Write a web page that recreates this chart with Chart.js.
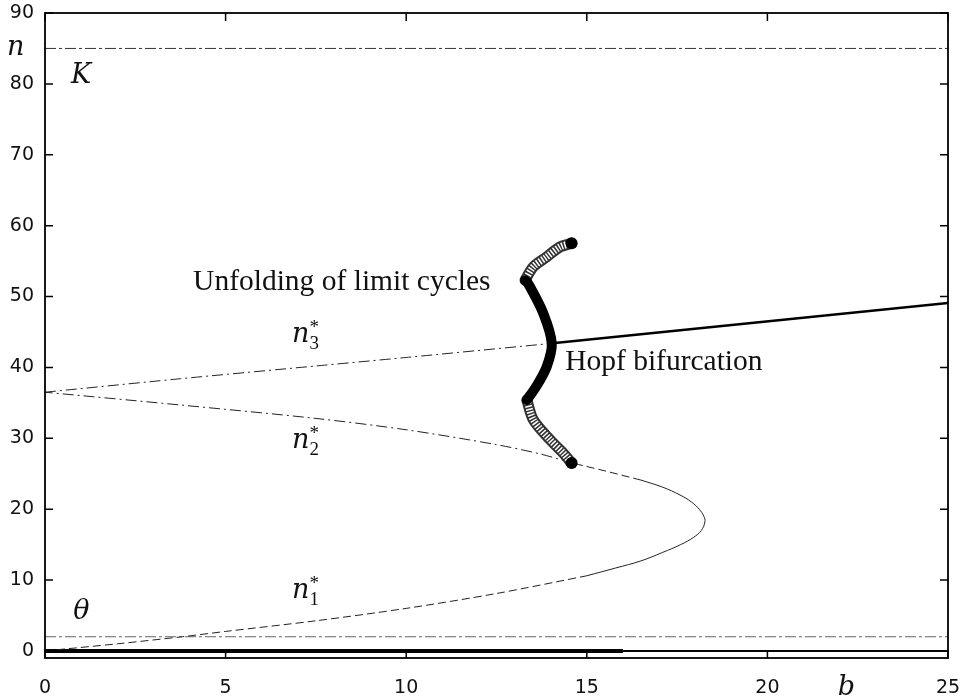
<!DOCTYPE html>
<html>
<head>
<meta charset="utf-8">
<script src="https://cdn.jsdelivr.net/npm/chart.js@4.4.1/dist/chart.umd.min.js"></script>
<style>
html,body{margin:0;padding:0;background:#fff;}
#wrap{width:965px;height:697px;}
</style>
</head>
<body>
<div id="wrap"><canvas id="c" width="965" height="697"></canvas></div>
<script>
// ---- data ----
const xTicks = [0, 5, 10, 15, 20, 25];
const yTicks = [0, 10, 20, 30, 40, 50, 60, 70, 80, 90];

const kLevel = 85;      // K
const thetaLevel = 2;   // theta

// n1* lower branch (dashed)
const n1B = [0, 2, 3.8, 5, 7.5, 10, 12.5, 15];
const n1N = [0, 1.0, 2.0, 2.75, 4.25, 6.0, 8.1, 10.6];
// fold part (thin solid)
const foldB = [15, 15.8, 16.5, 17.1, 17.6, 17.95, 18.17, 18.27, 18.24, 18.11, 17.9, 17.58, 17.1, 16.5];
const foldN = [10.6, 11.7, 12.7, 13.9, 15.0, 16.0, 17.0, 18.2, 19.0, 20.0, 21.0, 22.0, 23.1, 24.1];
// back toward the limit cycle end (dashed)
const upperB = [16.5, 15.5, 14.6];
const upperN = [24.1, 25.4, 26.5];
// n2* (dash-dot)
const n2B = [14.6, 13.7, 12.5, 10, 7.5, 3.74, 0];
const n2N = [26.5, 27.8, 29.1, 31.2, 32.8, 34.7, 36.5];
// n3* (dash-dot, unstable) and stable part after Hopf
const n3B = [0, 3.74, 7.5, 10, 14.05];
const n3N = [36.5, 38.4, 40.2, 41.4, 43.4];
const stableB = [14.05, 25];
const stableN = [43.4, 49.1];
// n = 0 line
const zeroThickB = [0, 16];
const zeroThinB = [16, 25];
const zeroN = [0, 0];

// limit cycle branch
const lcTopB = [14.58, 14.26, 13.89, 13.52, 13.29];
const lcTopN = [57.5, 57.0, 55.6, 54.2, 52.3];
const lcMidB = [13.29, 13.37, 13.79, 14.03, 13.89, 13.6, 13.34];
const lcMidN = [52.3, 51.9, 47.7, 43.4, 40.1, 37.3, 35.4];
const lcBotB = [13.34, 13.52, 13.98, 14.35, 14.58];
const lcBotN = [35.4, 32.6, 29.8, 27.9, 26.5];
const lcEndsB = [14.58, 14.58];
const lcEndsN = [57.5, 26.5];

// ---- helpers ----
const pts = (B, N) => B.map((b, i) => ({x: b, y: N[i]}));
const hline = (v) => [{x: 0, y: v}, {x: 25, y: v}];

function lineDs(data, color, width, dash, extra) {
  return Object.assign({
    data: data, showLine: true, borderColor: color, borderWidth: width,
    borderDash: dash || [], pointRadius: 0, fill: false, tension: 0.3,
    borderCapStyle: 'butt', borderJoinStyle: 'round'
  }, extra || {});
}

// listed bottom-to-top
const drawList = [
  lineDs(hline(kLevel), '#333', 1, [11, 3, 3, 3], {tension: 0}),
  lineDs(hline(thetaLevel), '#666', 1.2, [11, 3, 3, 3], {tension: 0}),
  lineDs(pts(zeroThickB, zeroN), '#000', 4, [], {tension: 0}),
  lineDs(pts(zeroThinB, zeroN), '#000', 2, [], {tension: 0}),
  lineDs(pts(n1B, n1N), '#222', 1, [8, 4]),
  lineDs(pts(foldB, foldN), '#222', 1, [], {tension: 0.4}),
  lineDs(pts(upperB, upperN), '#222', 1, [8, 4]),
  lineDs(pts(n2B, n2N), '#222', 1, [11, 4, 2, 4]),
  lineDs(pts(n3B, n3N), '#222', 1, [11, 4, 2, 4], {tension: 0.2}),
  lineDs(pts(stableB, stableN), '#000', 2.5, [], {tension: 0}),
  // limit cycles: open-circle tubes
  lineDs(pts(lcTopB, lcTopN), '#333', 11, [], {borderCapStyle: 'round'}),
  lineDs(pts(lcTopB, lcTopN), '#fff', 7, [1.5, 1.5]),
  lineDs(pts(lcBotB, lcBotN), '#333', 11, [], {borderCapStyle: 'round'}),
  lineDs(pts(lcBotB, lcBotN), '#fff', 7, [1.5, 1.5]),
  // limit cycles: filled part
  lineDs(pts(lcMidB, lcMidN), '#000', 10, [], {borderCapStyle: 'round'}),
  {data: pts(lcEndsB, lcEndsN), showLine: false, pointRadius: 6, pointBackgroundColor: '#000',
   pointBorderColor: '#000', pointBorderWidth: 0}
];
// Chart.js paints dataset 0 last (on top), so reverse
const datasets = drawList.slice().reverse();

// annotation texts (positions in data units)
const mathFont = 'italic 27px "DejaVu Serif"';
const texts = [
  {t: 'Unfolding of limit cycles', b: 4.10, n: 50.9, font: '29.5px "Liberation Serif"'},
  {t: 'Hopf bifurcation', b: 14.40, n: 39.6, font: '29.5px "Liberation Serif"'},
  {t: 'n', b: -1.05, n: 84.1, font: mathFont},
  {t: 'K', b: 0.72, n: 80.1, font: mathFont},
  {t: 'θ', b: 0.78, n: 4.5, font: mathFont},
  {t: 'b', b: 21.95, n: -6.2, font: mathFont}
];
const starLabels = [
  {sub: '3', b: 6.84, n: 43.6},
  {sub: '2', b: 6.84, n: 28.6},
  {sub: '1', b: 6.84, n: 7.5}
];

const decor = {
  id: 'decor',
  afterDraw(chart) {
    const ctx = chart.ctx, a = chart.chartArea;
    const xs = chart.scales.x, ys = chart.scales.y;
    ctx.save();
    ctx.strokeStyle = '#000';
    ctx.lineWidth = 1.5;
    const L = 8;
    ctx.beginPath();
    xTicks.forEach(v => {
      const px = xs.getPixelForValue(v);
      ctx.moveTo(px, a.bottom); ctx.lineTo(px, a.bottom - L);
      ctx.moveTo(px, a.top); ctx.lineTo(px, a.top + L);
    });
    yTicks.forEach(v => {
      const py = ys.getPixelForValue(v);
      ctx.moveTo(a.left, py); ctx.lineTo(a.left + L, py);
      ctx.moveTo(a.right, py); ctx.lineTo(a.right - L, py);
    });
    ctx.stroke();
    ctx.lineWidth = 1.8;
    ctx.strokeRect(a.left, a.top, a.right - a.left, a.bottom - a.top);

    ctx.fillStyle = '#111';
    ctx.textBaseline = 'alphabetic';
    ctx.textAlign = 'left';
    texts.forEach(o => {
      ctx.font = o.font;
      ctx.fillText(o.t, xs.getPixelForValue(o.b), ys.getPixelForValue(o.n));
    });
    starLabels.forEach(o => {
      const x = xs.getPixelForValue(o.b), y = ys.getPixelForValue(o.n);
      ctx.font = mathFont;
      ctx.fillText('n', x, y);
      const w = ctx.measureText('n').width;
      ctx.font = '19px "Liberation Serif"';
      ctx.fillText(o.sub, x + w, y + 7);
      ctx.fillText('*', x + w, y - 9);
    });
    ctx.restore();
  }
};

const noPad = s => { s.paddingTop = 0; s.paddingBottom = 0; s.paddingLeft = 0; s.paddingRight = 0; };

new Chart(document.getElementById('c'), {
  type: 'scatter',
  data: {datasets: datasets},
  plugins: [decor],
  options: {
    responsive: false,
    animation: false,
    events: [],
    layout: {padding: {top: 13, right: 17, left: 0, bottom: 0}},
    plugins: {legend: {display: false}, tooltip: {enabled: false}},
    scales: {
      x: {
        type: 'linear', min: 0, max: 25,
        afterBuildTicks: s => { s.ticks = xTicks.map(v => ({value: v})); },
        afterFit: s => { s.height = 39; noPad(s); },
        grid: {display: false, drawTicks: false},
        border: {display: false},
        ticks: {padding: 19, color: '#111', font: {family: 'DejaVu Sans', size: 19}, maxRotation: 0}
      },
      y: {
        type: 'linear', min: -1, max: 90,
        afterBuildTicks: s => { s.ticks = yTicks.map(v => ({value: v})); },
        afterFit: s => { s.width = 45; noPad(s); },
        grid: {display: false, drawTicks: false},
        border: {display: false},
        ticks: {padding: 11, color: '#111', font: {family: 'DejaVu Sans', size: 19}}
      }
    }
  }
});
</script>
</body>
</html>
